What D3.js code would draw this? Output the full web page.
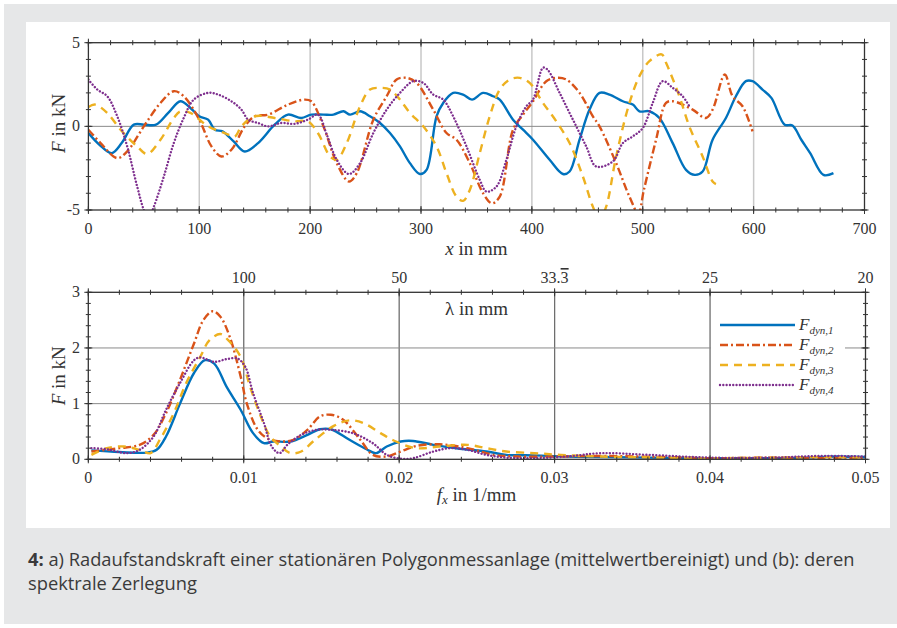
<!DOCTYPE html>
<html>
<head>
    <title>Radaufstandskraft</title>
    <style type="text/css">
        body { margin: 0; background: #fff; }
        svg text { font-family: "Liberation Serif", "DejaVu Serif", serif; fill: #333; }
        .tick-label { font-size: 16px; }
        .axis-label { font-size: 19px; }
        .caption { font-family: "Liberation Sans Narrow", "Open Sans", sans-serif; font-size: 18.3px; fill: #3a3a3a; }
    </style>
</head>
<body>
<script src="https://d3js.org/d3.v7.min.js" type="text/javascript"></script>
<script type="text/javascript">

    // a) force over position, four measurement runs
    var x1 = [0,10,21,30,41,50,61,72,83,92,100,108,114,121,131,141,153,168,180,192,201,212,221,230,236,245,254,263,272,281,290,299,305,314,320,329,338,346,356,365,371,383,392,401,416,428,434,443,452,461,470,482,491,497,506,515,527,539,547,554,563,575,584,593,599,608,616,628,635,643,651,663,672];
    var f1 = [-0.4,-1.1,-1.6,-1.0,0.1,0.1,0.1,0.8,1.5,1.1,0.6,0.4,-0.2,-0.3,-0.9,-1.5,-1.0,0.1,0.7,0.5,0.7,0.7,0.7,0.9,0.7,0.9,0.6,0.2,-0.4,-1.2,-2.2,-2.85,-2.6,0.6,1.4,2.0,1.9,1.6,2.0,1.8,1.6,0.4,-0.2,-0.8,-2.0,-2.85,-2.7,-0.8,1.0,2.0,1.9,1.5,1.3,0.9,0.9,0.5,-1.0,-2.6,-2.9,-2.7,-0.8,0.5,1.8,2.7,2.7,2.2,1.7,0.1,0.05,-0.8,-1.6,-2.9,-2.8];

    var x2 = [0,11,26,35,50,65,77,86,100,111,120,129,141,150,162,180,195,201,212,224,235,242,257,269,278,287,296,311,323,332,344,356,364,371,383,392,401,413,422,431,443,455,461,476,488,496,501,512,521,527,545,557,563,574,581,590,599];
    var f2 = [-0.2,-1.0,-1.9,-1.5,0,1.4,2.1,1.8,0.4,-1.2,-1.8,-1.4,0,0.6,0.7,1.3,1.6,1.5,0,-2.2,-3.3,-2.8,0.4,1.8,2.8,2.9,2.6,1.0,-0.4,-0.8,-2.2,-4.0,-4.6,-4.2,-0.2,0.7,1.5,2.7,2.9,2.8,2.0,0.6,0,-2.2,-4.2,-5.2,-3.8,-0.8,1.4,1.5,1.0,0.5,1.0,3.1,1.8,1.2,-0.3];

    var x3 = [0,6,17,29,44,53,65,77,83,92,108,123,132,138,150,168,186,198,207,218,224,233,245,254,263,272,281,290,302,314,323,332,338,344,353,362,371,380,389,398,410,422,434,446,455,461,467,476,488,497,506,517,521,533,542,554,563,566];
    var f3 = [1.15,1.3,0.8,-0.2,-1.2,-1.65,-0.8,0.5,0.9,0.8,0,-0.4,-0.6,0,0.6,0.5,0.3,0.3,-0.4,-1.8,-2.0,-1.0,1.2,2.2,2.3,2.2,1.6,0.8,0,-1.2,-2.8,-4.2,-4.45,-3.8,-1.6,0.6,2.2,2.8,2.9,2.6,1.4,0.3,-1.0,-3.0,-4.8,-5.6,-4.8,-1.8,1.4,3.0,3.9,4.3,3.8,1.8,0,-1.8,-3.3,-3.45];

    var x4 = [0,8,17,26,35,44,50,54,59,68,77,86,95,108,117,129,138,144,153,162,174,186,198,207,215,224,235,245,257,269,281,293,302,311,320,329,341,353,359,368,377,386,395,401,410,414,425,437,449,458,473,482,491,500,509,518,527,536,542];
    var f4 = [2.8,2.2,1.8,0.6,-1.2,-3.6,-5.0,-5.5,-4.8,-3.0,-1.0,0.5,1.6,2.0,1.9,1.5,1.0,0.4,0.2,0,0.2,0.15,0.4,0.7,-0.5,-2.0,-2.85,-2.2,-0.4,1.0,2.0,2.7,2.6,1.9,1.6,0.6,-1.2,-3.2,-3.9,-3.6,-2.0,0,1.2,1.6,3.5,3.4,2.0,0.4,-1.2,-2.4,-2.1,-1.0,-0.6,-0.1,1.4,2.7,2.3,1.8,1.2];

    // b) spectra over spatial frequency
    var s1 = [0.0002,0.002,0.0038,0.0044,0.005,0.0059,0.0068,0.0075,0.0081,0.0089,0.0098,0.0106,0.0113,0.0119,0.013,0.0141,0.0149,0.0156,0.0168,0.0179,0.0185,0.0192,0.0201,0.0209,0.0222,0.0239,0.0256,0.0269,0.0287,0.0308,0.033,0.036,0.04,0.043,0.046,0.048,0.05];
    var a1 = [0.16,0.13,0.12,0.17,0.41,1.0,1.55,1.78,1.72,1.3,0.89,0.47,0.29,0.32,0.32,0.44,0.54,0.54,0.35,0.18,0.11,0.23,0.32,0.33,0.26,0.19,0.14,0.08,0.07,0.05,0.04,0.03,0.02,0.02,0.03,0.05,0.04];

    var s2 = [0.0002,0.002,0.0033,0.0042,0.005,0.0059,0.0068,0.0074,0.008,0.0085,0.0091,0.0098,0.0102,0.0109,0.0115,0.0124,0.0132,0.0141,0.0149,0.0156,0.0164,0.0175,0.0183,0.0192,0.0201,0.0211,0.0226,0.0244,0.0261,0.0276,0.03,0.033,0.037,0.04,0.044,0.047,0.05];
    var a2 = [0.14,0.2,0.26,0.44,0.83,1.43,2.08,2.5,2.66,2.56,2.2,1.49,1.0,0.53,0.38,0.32,0.35,0.53,0.77,0.8,0.71,0.35,0.08,0.05,0.14,0.24,0.27,0.2,0.08,0.05,0.05,0.06,0.04,0.02,0.03,0.02,0.03];

    var s3 = [0.0002,0.0012,0.0023,0.0033,0.004,0.0046,0.0055,0.0063,0.0072,0.0078,0.0085,0.009,0.0098,0.0104,0.0111,0.0117,0.0124,0.013,0.0137,0.0145,0.0158,0.0168,0.0177,0.0188,0.0198,0.0211,0.0226,0.0244,0.0256,0.0269,0.0287,0.0304,0.033,0.037,0.04,0.044,0.047,0.05];
    var a3 = [0.08,0.2,0.23,0.17,0.11,0.35,0.83,1.37,1.84,2.14,2.25,2.14,1.84,1.31,0.77,0.41,0.23,0.11,0.14,0.33,0.6,0.7,0.65,0.47,0.32,0.2,0.23,0.26,0.2,0.14,0.11,0.08,0.05,0.03,0.02,0.03,0.04,0.03];

    var s4 = [0.0002,0.0012,0.0025,0.0033,0.0042,0.005,0.0059,0.0068,0.0072,0.0081,0.0089,0.0096,0.0101,0.0106,0.0113,0.0118,0.0123,0.0128,0.0137,0.0147,0.0156,0.017,0.0183,0.0192,0.0201,0.0209,0.0222,0.0233,0.0244,0.0256,0.0269,0.0287,0.0308,0.033,0.036,0.04,0.044,0.047,0.05];
    var a4 = [0.2,0.18,0.11,0.17,0.41,0.89,1.37,1.78,1.83,1.75,1.8,1.81,1.66,1.19,0.65,0.23,0.11,0.26,0.44,0.53,0.53,0.47,0.29,0.08,0.01,0.02,0.14,0.2,0.17,0.08,0.03,0.02,0.05,0.11,0.08,0.03,0.03,0.06,0.05];

    var seriesNames = ['dyn,1', 'dyn,2', 'dyn,3', 'dyn,4'];
    var lambdaTicks = [0.01, 0.02, 0.03, 0.04, 0.05];
    // second part gets an overline (repeating decimal)
    var lambdaLabels = [['100', ''], ['50', ''], ['33.', '3'], ['25', ''], ['20', '']];
    var caption1 = 'a) Radaufstandskraft einer stationären Polygonmessanlage (mittelwertbereinigt) und (b): deren';
    var caption2 = 'spektrale Zerlegung';

    var colors = ['#0072bd', '#d95319', '#edb120', '#7e2f8e'];
    var dashes = [null, '8,3,2,3', '8,6', '0.01,3.3'];
    var caps = ['butt', 'butt', 'butt', 'round'];

    function zip(xs, ys) {
        return xs.map(function (v, i) { return [v, ys[i]]; });
    }

    var svg = d3.select('body').append('svg')
        .attr('width', 897)
        .attr('height', 628);

    // page background and white panel
    svg.append('rect').attr('x', 4).attr('y', 4).attr('width', 893).attr('height', 620).attr('fill', '#e6e7e8');
    svg.append('rect').attr('x', 26).attr('y', 22).attr('width', 864).attr('height', 506).attr('fill', '#fff');

    // draws ticks crossing an axis line
    function ticks(g, vals, pos, fixed, horizontal, len) {
        g.selectAll(null).data(vals).enter().append('line')
            .attr('x1', function (d) { return horizontal ? pos(d) : fixed - len; })
            .attr('x2', function (d) { return horizontal ? pos(d) : fixed + len; })
            .attr('y1', function (d) { return horizontal ? fixed - len : pos(d); })
            .attr('y2', function (d) { return horizontal ? fixed + len : pos(d); })
            .attr('stroke', '#333').attr('stroke-width', 1);
    }

    function frame(g, x, y, xMaj, xMin, yMaj, yMin) {
        var x0 = x.range()[0], x1r = x.range()[1], y0 = y.range()[0], y1r = y.range()[1];
        ticks(g, xMin, x, y0, true, 2.5);
        ticks(g, xMin, x, y1r, true, 2.5);
        ticks(g, xMaj, x, y0, true, 4);
        ticks(g, xMaj, x, y1r, true, 4);
        ticks(g, yMin, y, x0, false, 2.5);
        ticks(g, yMin, y, x1r, false, 2.5);
        ticks(g, yMaj, y, x0, false, 4);
        ticks(g, yMaj, y, x1r, false, 4);
        g.append('rect')
            .attr('x', x0).attr('y', y1r)
            .attr('width', x1r - x0).attr('height', y0 - y1r)
            .attr('fill', 'none').attr('stroke', '#333').attr('stroke-width', 1.3);
    }

    function styleLines(sel) {
        sel.attr('fill', 'none')
            .attr('stroke', function (d, i) { return colors[i]; })
            .attr('stroke-width', 2.4)
            .attr('stroke-dasharray', function (d, i) { return dashes[i]; })
            .attr('stroke-linecap', function (d, i) { return caps[i]; });
    }

    // ---------- top chart ----------
    var xa = d3.scaleLinear().domain([0, 700]).range([88.4, 864.5]);
    var ya = d3.scaleLinear().domain([-5, 5]).range([210, 42.7]);
    var gTop = svg.append('g');

    gTop.selectAll(null).data(d3.range(100, 700, 100)).enter().append('line')
        .attr('x1', xa).attr('x2', xa).attr('y1', ya(-5)).attr('y2', ya(5))
        .attr('stroke', '#c8c8c8').attr('stroke-width', 1.5);
    gTop.append('line')
        .attr('x1', xa(0)).attr('x2', xa(700)).attr('y1', ya(0)).attr('y2', ya(0))
        .attr('stroke', '#8a8a8a').attr('stroke-width', 1);

    svg.append('clipPath').attr('id', 'clipA').append('rect')
        .attr('x', xa(0)).attr('y', ya(5)).attr('width', xa(700) - xa(0)).attr('height', ya(-5) - ya(5));

    var lineA = d3.line()
        .x(function (d) { return xa(d[0]); })
        .y(function (d) { return ya(d[1]); })
        .curve(d3.curveCatmullRom.alpha(0.5));

    var topData = [zip(x1, f1), zip(x2, f2), zip(x3, f3), zip(x4, f4)];
    gTop.append('g').attr('clip-path', 'url(#clipA)')
        .selectAll('path').data(topData).enter().append('path')
        .attr('d', lineA)
        .call(styleLines);

    frame(gTop, xa, ya, d3.range(0, 701, 100), d3.range(0, 701, 20), [-5, 0, 5], d3.range(-5, 6, 1));

    gTop.selectAll(null).data(d3.range(0, 701, 100)).enter().append('text')
        .attr('class', 'tick-label')
        .attr('x', xa).attr('y', 234)
        .attr('text-anchor', 'middle')
        .text(function (d) { return d; });
    gTop.selectAll(null).data([-5, 0, 5]).enter().append('text')
        .attr('class', 'tick-label')
        .attr('x', 80).attr('y', function (d) { return ya(d) + 5; })
        .attr('text-anchor', 'end')
        .text(function (d) { return d; });

    var xl = gTop.append('text').attr('class', 'axis-label')
        .attr('x', 476.5).attr('y', 255).attr('text-anchor', 'middle');
    xl.append('tspan').attr('font-style', 'italic').text('x');
    xl.append('tspan').text(' in mm');

    var yl = gTop.append('text').attr('class', 'axis-label')
        .attr('transform', 'translate(65,' + (ya(0) - 3) + ') rotate(-90)')
        .attr('text-anchor', 'middle');
    yl.append('tspan').attr('font-style', 'italic').text('F');
    yl.append('tspan').text(' in kN');

    // ---------- bottom chart ----------
    var xb = d3.scaleLinear().domain([0, 0.05]).range([88.3, 865.5]);
    var yb = d3.scaleLinear().domain([0, 3]).range([459.3, 292.3]);
    var gBot = svg.append('g');

    gBot.selectAll(null).data([0.01, 0.02, 0.03, 0.04]).enter().append('line')
        .attr('x1', xb).attr('x2', xb).attr('y1', yb(0)).attr('y2', yb(3))
        .attr('stroke', '#6e6e6e').attr('stroke-width', 1.3);
    gBot.selectAll(null).data([1, 2]).enter().append('line')
        .attr('x1', xb(0)).attr('x2', xb(0.05)).attr('y1', yb).attr('y2', yb)
        .attr('stroke', '#8a8a8a').attr('stroke-width', 1);

    svg.append('clipPath').attr('id', 'clipB').append('rect')
        .attr('x', xb(0)).attr('y', yb(3)).attr('width', xb(0.05) - xb(0)).attr('height', yb(0) - yb(3));

    var lineB = d3.line()
        .x(function (d) { return xb(d[0]); })
        .y(function (d) { return yb(Math.max(0, d[1])); })
        .curve(d3.curveCatmullRom.alpha(0.5));

    var botData = [zip(s1, a1), zip(s2, a2), zip(s3, a3), zip(s4, a4)];
    gBot.append('g').attr('clip-path', 'url(#clipB)')
        .selectAll('path').data(botData).enter().append('path')
        .attr('d', lineB)
        .call(styleLines);

    // legend
    var leg = gBot.append('g');
    leg.append('rect').attr('x', 711).attr('y', 311).attr('width', 134).attr('height', 86).attr('fill', '#fff');
    seriesNames.forEach(function (name, i) {
        var yy = 325 + i * 20;
        leg.append('line')
            .attr('x1', 720).attr('x2', 795).attr('y1', yy).attr('y2', yy)
            .attr('stroke', colors[i]).attr('stroke-width', 2.4)
            .attr('stroke-dasharray', dashes[i])
            .attr('stroke-linecap', caps[i]);
        var t = leg.append('text').attr('x', 799).attr('y', yy + 5).attr('font-size', 17);
        t.append('tspan').attr('font-style', 'italic').text('F');
        t.append('tspan').attr('font-style', 'italic').attr('font-size', 11).attr('dy', 4).text(name);
    });

    frame(gBot, xb, yb, d3.range(0, 0.0501, 0.01), d3.range(0, 0.0501, 0.002), [0, 1, 2, 3], d3.range(0, 3.01, 0.2));

    gBot.selectAll(null).data([0, 0.01, 0.02, 0.03, 0.04, 0.05]).enter().append('text')
        .attr('class', 'tick-label')
        .attr('x', xb).attr('y', 483)
        .attr('text-anchor', 'middle')
        .text(function (d) { return d; });
    var lt = gBot.selectAll(null).data(lambdaTicks).enter().append('text')
        .attr('class', 'tick-label')
        .attr('x', xb).attr('y', 283)
        .attr('text-anchor', 'middle');
    lt.append('tspan').text(function (d, i) { return lambdaLabels[i][0]; });
    lt.append('tspan').attr('text-decoration', 'overline')
        .text(function (d, i) { return lambdaLabels[i][1]; });
    gBot.selectAll(null).data([0, 1, 2, 3]).enter().append('text')
        .attr('class', 'tick-label')
        .attr('x', 80).attr('y', function (d) { return yb(d) + 5; })
        .attr('text-anchor', 'end')
        .text(function (d) { return d; });

    gBot.append('text').attr('class', 'axis-label')
        .attr('x', 476.5).attr('y', 315).attr('text-anchor', 'middle')
        .text('\u03bb in mm');

    var fl = gBot.append('text').attr('class', 'axis-label')
        .attr('x', 476.5).attr('y', 501).attr('text-anchor', 'middle');
    fl.append('tspan').attr('font-style', 'italic').text('f');
    fl.append('tspan').attr('font-style', 'italic').attr('font-size', 13).attr('dy', 3).text('x');
    fl.append('tspan').attr('dy', -3).text(' in 1/mm');

    var bl = gBot.append('text').attr('class', 'axis-label')
        .attr('transform', 'translate(65,' + yb(1.5) + ') rotate(-90)')
        .attr('text-anchor', 'middle');
    bl.append('tspan').attr('font-style', 'italic').text('F');
    bl.append('tspan').text(' in kN');

    // caption
    var c1 = svg.append('text').attr('class', 'caption').attr('x', 28).attr('y', 566);
    c1.append('tspan').attr('font-weight', 'bold').text('4:');
    c1.append('tspan').text(' ' + caption1);
    svg.append('text').attr('class', 'caption').attr('x', 28).attr('y', 590).text(caption2);

</script>
</body>
</html>
